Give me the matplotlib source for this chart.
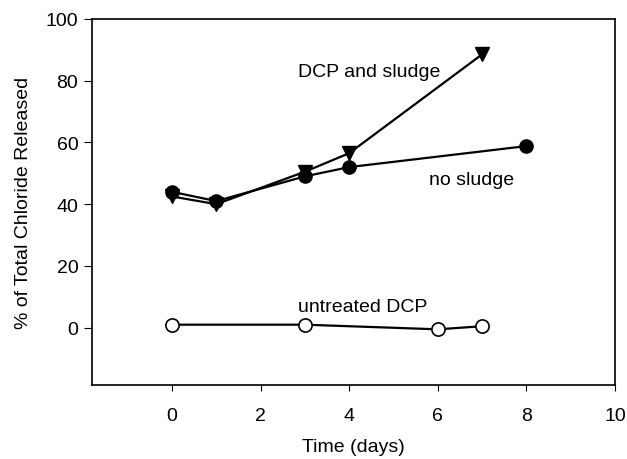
import matplotlib.pyplot as plt
import numpy as np

plt.rcParams['font.family'] = ['Liberation Sans', 'DejaVu Sans']

# chloride release over time
t_sludge = [0, 1, 3, 4, 7]
cl_sludge = [42.5, 40, 50.5, 56.5, 88.5]

t_nosludge = [0, 1, 3, 4, 8]
cl_nosludge = [44, 41, 49, 52, 58.8]

t_untreated = [0, 3, 6, 7]
cl_untreated = [1, 1, -0.5, 0.5]

fig = plt.figure(figsize=(6.27, 4.6), dpi=100)
ax = fig.add_axes([0.147, 0.161, 0.834, 0.796])

ax.plot(t_sludge, cl_sludge, color='black', lw=1.6, marker='v', ms=9.5,
        mfc='black', mec='black')
ax.plot(t_nosludge, cl_nosludge, color='black', lw=1.6, marker='o', ms=9.5,
        mfc='black', mec='black')
ax.plot(t_untreated, cl_untreated, color='black', lw=1.6, marker='o', ms=9.5,
        mfc='white', mec='black', mew=1.2)

fs = 14
ax.text(4.45, 83, "DCP and sludge", fontsize=fs, ha='center', va='center')
ax.text(6.75, 48, "no sludge", fontsize=fs, ha='center', va='center')
ax.text(4.3, 7, "untreated DCP", fontsize=fs, ha='center', va='center')

ax.set_xlim(-1.8, 10)
ax.set_ylim(-18.5, 100)
ax.set_xticks(np.arange(0, 11, 2))
ax.set_yticks(np.arange(0, 101, 20))
ax.tick_params(direction='out', labelsize=fs)
ax.tick_params(axis='y', length=6, pad=4)
ax.tick_params(axis='x', length=4, pad=12)

ax.set_xlabel("Time (days)", fontsize=fs, labelpad=10)
ax.set_ylabel("% of Total Chloride Released", fontsize=fs, labelpad=10)

for s in ax.spines.values():
    s.set_linewidth(1.2)

plt.savefig("out.png", dpi=100)
